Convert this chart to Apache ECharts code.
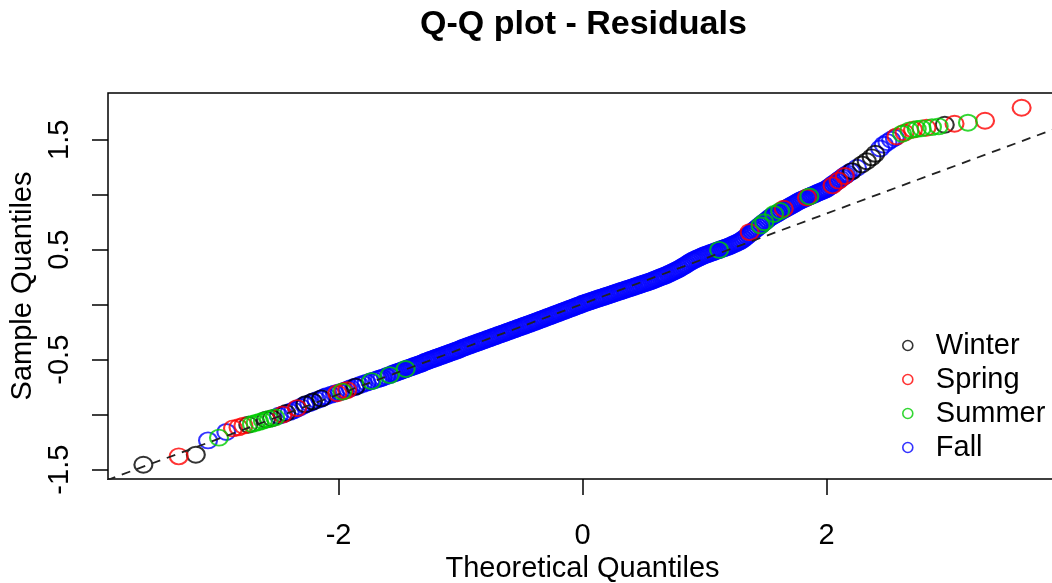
<!DOCTYPE html>
<html><head><meta charset="utf-8">
<script src="https://cdn.jsdelivr.net/npm/echarts@6/dist/echarts.min.js"></script>
<style>html,body{margin:0;padding:0;background:#fff}#c{width:1052px;height:583px}</style>
</head><body><div id="c"></div>
<script>
// ---- data ----
const seasons = ['Winter', 'Spring', 'Summer', 'Fall'];
const seasonColors = ['#000000', '#FF0000', '#00CD00', '#0000FF'];

// [theoretical quantile, sample quantile]
const winter = [[-3.60,-1.455],[-3.17,-1.364],[-2.74,-1.092],[-2.595,-1.045],[-2.545,-1.033],[-2.43,-0.985],[-2.27,-0.905],[-2.21,-0.880],[-2.14,-0.852],[-1.86,-0.745],[2.21,1.215],[2.29,1.275],[2.33,1.305],[2.37,1.340],[2.40,1.372],[2.97,1.636]];
const spring = [[-3.31,-1.379],[-2.865,-1.125],[-2.82,-1.115],[-2.78,-1.100],[-2.46,-1.000],[-2.34,-0.940],[-2.01,-0.805],[-1.96,-0.787],[-1.93,-0.777],[1.37,0.660],[1.65,0.872],[1.84,0.975],[2.05,1.085],[2.10,1.128],[2.15,1.170],[2.575,1.530],[2.64,1.565],[2.71,1.592],[2.82,1.609],[3.05,1.645],[3.30,1.673],[3.60,1.791]];
const summer = [[-2.98,-1.209],[-2.71,-1.085],[-2.68,-1.075],[-2.65,-1.066],[-2.62,-1.055],[-2.57,-1.040],[-2.52,-1.025],[-1.97,-0.790],[-1.73,-0.695],[-1.58,-0.640],[-1.45,-0.585],[1.12,0.498],[1.46,0.720],[1.49,0.750],[1.57,0.825],[1.62,0.852],[1.86,0.984],[2.62,1.555],[2.68,1.585],[2.74,1.598],[2.78,1.603],[2.865,1.615],[2.92,1.622],[3.16,1.655]];
const fall = [[-3.07,-1.234],[-2.92,-1.157],
[-2.49,-1.010],[-2.455,-0.998],[-2.40,-0.975],[-2.37,-0.962],[-2.34,-0.946],[-2.31,-0.930],[-2.28,-0.912],[-2.24,-0.896],[-2.215,-0.884],[-2.18,-0.868],[-2.15,-0.857],[-2.12,-0.842],[-2.10,-0.833],[-2.06,-0.819],[-2.03,-0.808],[-1.99,-0.795],[-1.95,-0.781],[-1.92,-0.768],[-1.90,-0.760],[-1.87,-0.749],[-1.83,-0.731],[-1.80,-0.720],[-1.77,-0.709],[-1.74,-0.698],[-1.71,-0.688],[-1.68,-0.677],[-1.66,-0.670],[-1.64,-0.663],[-1.61,-0.651],[-1.585,-0.641],
[-1.560,-0.630],[-1.545,-0.624],[-1.530,-0.618],[-1.515,-0.612],[-1.500,-0.606],[-1.485,-0.600],[-1.470,-0.594],[-1.455,-0.588],[-1.440,-0.582],[-1.425,-0.576],[-1.410,-0.570],[-1.395,-0.564],[-1.380,-0.558],[-1.365,-0.552],[-1.350,-0.546],[-1.335,-0.540],[-1.320,-0.534],[-1.305,-0.528],
[-1.290,-0.519],[-1.275,-0.513],[-1.260,-0.507],[-1.245,-0.501],[-1.230,-0.495],[-1.215,-0.489],[-1.200,-0.483],[-1.185,-0.477],[-1.170,-0.471],[-1.155,-0.465],[-1.140,-0.459],[-1.125,-0.453],[-1.110,-0.447],[-1.095,-0.441],[-1.080,-0.435],[-1.065,-0.429],[-1.050,-0.423],[-1.035,-0.417],[-1.020,-0.411],[-1.005,-0.405],
[-0.990,-0.396],[-0.975,-0.390],[-0.960,-0.384],[-0.945,-0.378],[-0.930,-0.372],[-0.915,-0.366],[-0.900,-0.360],[-0.885,-0.354],[-0.870,-0.348],[-0.855,-0.342],[-0.840,-0.336],[-0.825,-0.330],[-0.810,-0.324],[-0.795,-0.318],[-0.780,-0.312],[-0.765,-0.306],[-0.750,-0.300],[-0.735,-0.294],[-0.720,-0.288],[-0.705,-0.282],[-0.690,-0.276],[-0.675,-0.270],[-0.660,-0.264],[-0.645,-0.258],[-0.630,-0.252],[-0.615,-0.246],[-0.600,-0.240],[-0.585,-0.234],[-0.570,-0.228],[-0.555,-0.222],[-0.540,-0.216],[-0.525,-0.210],[-0.510,-0.204],[-0.495,-0.198],[-0.480,-0.192],[-0.465,-0.186],[-0.450,-0.180],[-0.435,-0.174],[-0.420,-0.168],[-0.405,-0.162],
[-0.390,-0.156],[-0.375,-0.149],[-0.360,-0.143],[-0.345,-0.137],[-0.330,-0.131],[-0.315,-0.124],[-0.300,-0.118],[-0.285,-0.112],[-0.270,-0.106],[-0.255,-0.099],[-0.240,-0.093],[-0.225,-0.087],[-0.210,-0.081],[-0.195,-0.074],[-0.180,-0.068],[-0.165,-0.062],[-0.150,-0.056],[-0.135,-0.049],[-0.120,-0.043],[-0.105,-0.037],[-0.090,-0.031],[-0.075,-0.024],[-0.060,-0.018],[-0.045,-0.012],[-0.030,-0.006],[-0.015,0.001],
[0.000,0.008],[0.015,0.014],[0.030,0.019],[0.045,0.025],[0.060,0.030],[0.075,0.036],[0.090,0.041],[0.105,0.047],[0.120,0.052],[0.135,0.058],[0.150,0.063],[0.165,0.069],[0.180,0.074],[0.195,0.080],[0.210,0.085],[0.225,0.091],[0.240,0.096],[0.255,0.102],[0.270,0.107],[0.285,0.113],[0.300,0.118],[0.315,0.124],[0.330,0.129],[0.345,0.135],[0.360,0.140],[0.375,0.146],[0.390,0.151],[0.405,0.157],[0.420,0.162],[0.435,0.168],[0.450,0.173],[0.465,0.179],[0.480,0.184],[0.495,0.190],[0.510,0.195],[0.525,0.201],[0.540,0.206],
[0.555,0.212],[0.570,0.219],[0.585,0.225],[0.600,0.232],[0.615,0.238],[0.630,0.245],[0.645,0.252],[0.660,0.258],[0.675,0.265],[0.690,0.271],
[0.705,0.279],[0.720,0.287],[0.735,0.295],[0.750,0.303],[0.765,0.311],[0.780,0.319],[0.795,0.328],[0.810,0.338],[0.825,0.347],[0.840,0.358],[0.855,0.368],[0.870,0.379],[0.885,0.389],
[0.900,0.399],[0.915,0.407],[0.930,0.415],[0.945,0.423],[0.960,0.430],[0.975,0.438],[0.990,0.445],
[1.005,0.452],[1.020,0.458],[1.035,0.464],[1.050,0.470],[1.065,0.476],[1.080,0.482],[1.095,0.488],[1.110,0.494],[1.125,0.500],[1.140,0.506],[1.155,0.512],[1.170,0.518],[1.185,0.524],[1.200,0.530],[1.215,0.537],[1.230,0.545],[1.245,0.552],[1.260,0.560],
[1.275,0.568],[1.290,0.576],[1.305,0.586],[1.320,0.598],[1.335,0.611],[1.350,0.625],[1.365,0.638],[1.380,0.652],[1.395,0.665],[1.410,0.679],[1.425,0.692],[1.440,0.706],[1.455,0.719],[1.470,0.733],[1.485,0.746],[1.500,0.759],[1.515,0.772],[1.530,0.786],
[1.545,0.798],[1.560,0.807],[1.575,0.817],[1.590,0.826],[1.605,0.835],[1.620,0.845],[1.635,0.854],[1.650,0.863],[1.665,0.873],[1.680,0.882],[1.695,0.891],[1.710,0.901],[1.725,0.910],[1.740,0.919],[1.755,0.929],[1.770,0.938],[1.785,0.947],
[1.800,0.955],[1.815,0.962],[1.830,0.969],[1.845,0.977],[1.860,0.984],[1.875,0.991],[1.890,0.998],[1.905,1.005],[1.920,1.013],[1.935,1.020],[1.950,1.027],[1.965,1.034],[1.980,1.041],[1.995,1.049],
[2.010,1.059],[2.025,1.071],[2.040,1.084],[2.055,1.096],[2.070,1.108],[2.085,1.120],[2.100,1.132],[2.115,1.144],[2.130,1.157],[2.145,1.169],[2.160,1.181],[2.175,1.192],
[2.20,1.210],[2.25,1.245],[2.44,1.420],[2.47,1.455],[2.50,1.478],[2.53,1.500],[2.56,1.518]];

// reference line (qqline) end points
const qqLine = [[-3.9,-1.596],[3.9,1.610]];

const xTickValues = [-2, 0, 2];
const yTickValues = [-1.5, -1, -0.5, 0, 0.5, 1, 1.5];
const yLabelValues = [-1.5, -0.5, 0.5, 1.5];

// ---- chart ----
const FONT = "'Liberation Sans', Arial, Helvetica, sans-serif";
const seriesBySeason = { Winter: winter, Spring: spring, Summer: summer, Fall: fall };
const drawOrder = ['Fall', 'Winter', 'Spring', 'Summer'];

const chart = echarts.init(document.getElementById('c'), null, { renderer: 'canvas' });

const scatterSeries = drawOrder.map(name => {
  const c = seasonColors[seasons.indexOf(name)];
  return {
    name: name,
    type: 'scatter',
    data: seriesBySeason[name],
    symbol: 'circle',
    symbolSize: [18, 16],
    silent: true,
    itemStyle: { color: 'rgba(0,0,0,0)', borderColor: c, borderWidth: 2 }
  };
});

const option = {
  animation: false,
  backgroundColor: '#ffffff',
  title: {
    text: 'Q-Q plot - Residuals',
    left: 420,
    top: 8,
    padding: 0,
    textStyle: { fontFamily: FONT, fontSize: 34, fontWeight: 'bold', color: '#000' }
  },
  legend: {
    orient: 'vertical',
    left: 897,
    top: 326,
    itemWidth: 10,
    itemHeight: 10,
    itemGap: 5,
    icon: 'circle',
    selectedMode: false,
    textStyle: { fontFamily: FONT, fontSize: 29, color: '#000', padding: [0, 0, 0, 18] },
    data: seasons.map((s, i) => ({
      name: s,
      itemStyle: { color: 'rgba(0,0,0,0)', borderColor: seasonColors[i], borderWidth: 1.6 }
    }))
  },
  grid: {
    left: 108, top: 93, width: 949, height: 386,
    outerBoundsMode: 'none',
    containLabel: false,
    show: true, borderColor: '#000', borderWidth: 1.5, backgroundColor: 'rgba(0,0,0,0)'
  },
  xAxis: {
    type: 'value',
    min: -3.89, max: 3.89,
    position: 'bottom',
    axisLine: { show: false, onZero: false },
    splitLine: { show: false },
    axisTick: { show: true, customValues: xTickValues, length: 16, lineStyle: { color: '#000', width: 1.5 } },
    axisLabel: { customValues: xTickValues, margin: 42, fontFamily: FONT, fontSize: 29, color: '#000' },
    name: 'Theoretical Quantiles',
    nameLocation: 'middle',
    nameGap: 75,
    nameTextStyle: { fontFamily: FONT, fontSize: 29, color: '#000' }
  },
  yAxis: {
    type: 'value',
    min: -1.585, max: 1.925,
    position: 'left',
    axisLine: { show: false, onZero: false },
    splitLine: { show: false },
    axisTick: { show: true, customValues: yTickValues, length: 16, lineStyle: { color: '#000', width: 1.5 } },
    axisLabel: { customValues: yLabelValues, rotate: 90, margin: 34, fontFamily: FONT, fontSize: 29, color: '#000' },
    name: 'Sample Quantiles',
    nameLocation: 'middle',
    nameGap: 71,
    nameRotate: 90,
    nameTextStyle: { fontFamily: FONT, fontSize: 29, color: '#000' }
  },
  series: scatterSeries.concat([{
    name: 'qqline',
    type: 'line',
    data: qqLine,
    symbol: 'none',
    silent: true,
    clip: true,
    lineStyle: { color: '#222', width: 1.8, type: [9, 7] }
  }])
};
chart.setOption(option);
</script>
</body></html>
